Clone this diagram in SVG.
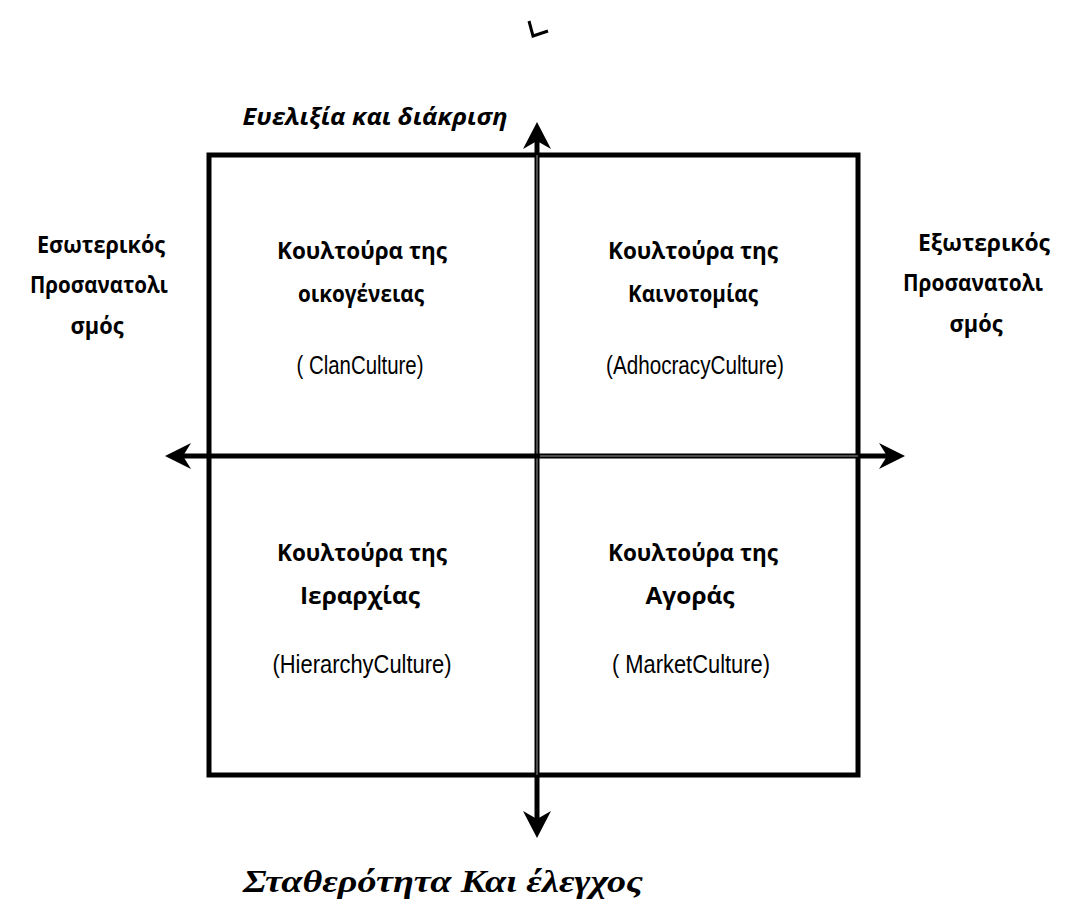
<svg xmlns="http://www.w3.org/2000/svg" width="1070" height="919" viewBox="0 0 1070 919">
<style>
.b{font-family:"Open Sans","Noto Sans","Liberation Sans",sans-serif;font-weight:bold;font-size:24px;fill:#000;text-anchor:middle}
.r{font-family:"Liberation Sans Narrow","Liberation Sans",sans-serif;font-size:26px;fill:#000;text-anchor:middle}
.ln{stroke:#000;stroke-width:5;fill:none}
.ah{fill:#000;stroke:none}
</style>
<rect width="1070" height="919" fill="#fff"/>
<path d="M529 21 L533 36 L548 31" stroke="#000" stroke-width="3" fill="none"/>
<g id="frame"><rect x="209" y="155" width="649" height="620" class="ln"/></g>
<g id="connectors">
<line x1="537" y1="135" x2="537" y2="825" class="ln"/>
<line x1="537" y1="155" x2="537" y2="775" stroke="#fff" stroke-width="1" opacity="0.6"/>
<line x1="178" y1="456" x2="892" y2="456" class="ln"/>
<line x1="540" y1="456" x2="858" y2="456" stroke="#fff" stroke-width="1" opacity="0.6"/>
<path class="ah" d="M537 122 L551 149 L537 141 L523 149 Z"/>
<path class="ah" d="M537 838 L551 811 L537 819 L523 811 Z"/>
<path class="ah" d="M165 456 L191 443 L183 456 L191 469 Z"/>
<path class="ah" d="M905 456 L879 443 L887 456 L879 469 Z"/>
</g>
<g id="axis-top"><text x="375" y="125" class="b" font-style="italic" textLength="265" lengthAdjust="spacingAndGlyphs">Ευελιξία και διάκριση</text></g>
<g id="axis-left">
<text x="101" y="253" class="b" textLength="128" lengthAdjust="spacingAndGlyphs">Εσωτερικός</text>
<text x="99" y="293" class="b" textLength="138" lengthAdjust="spacingAndGlyphs">Προσανατολι</text>
<text x="97" y="334" class="b" textLength="53" lengthAdjust="spacingAndGlyphs">σμός</text>
</g>
<g id="axis-right">
<text x="984" y="251" class="b" textLength="132" lengthAdjust="spacingAndGlyphs">Εξωτερικός</text>
<text x="973" y="291" class="b" textLength="140" lengthAdjust="spacingAndGlyphs">Προσανατολι</text>
<text x="976" y="332" class="b" textLength="53" lengthAdjust="spacingAndGlyphs">σμός</text>
</g>
<g id="clan">
<text x="362" y="259" class="b" textLength="170" lengthAdjust="spacingAndGlyphs">Κουλτούρα της</text>
<text x="361" y="302" class="b" textLength="126" lengthAdjust="spacingAndGlyphs">οικογένειας</text>
<text x="360" y="374" class="r" textLength="127" lengthAdjust="spacingAndGlyphs">( ClanCulture)</text>
</g>
<g id="adhocracy">
<text x="693" y="259" class="b" textLength="170" lengthAdjust="spacingAndGlyphs">Κουλτούρα της</text>
<text x="693" y="302" class="b" textLength="130" lengthAdjust="spacingAndGlyphs">Καινοτομίας</text>
<text x="695" y="374" class="r" textLength="178" lengthAdjust="spacingAndGlyphs">(AdhocracyCulture)</text>
</g>
<g id="hierarchy">
<text x="362" y="561" class="b" textLength="170" lengthAdjust="spacingAndGlyphs">Κουλτούρα της</text>
<text x="360" y="604" class="b" textLength="120" lengthAdjust="spacingAndGlyphs">Ιεραρχίας</text>
<text x="362" y="673" class="r" textLength="179" lengthAdjust="spacingAndGlyphs">(HierarchyCulture)</text>
</g>
<g id="market">
<text x="693" y="561" class="b" textLength="170" lengthAdjust="spacingAndGlyphs">Κουλτούρα της</text>
<text x="690" y="604" class="b" textLength="89" lengthAdjust="spacingAndGlyphs">Αγοράς</text>
<text x="691" y="673" class="r" textLength="158" lengthAdjust="spacingAndGlyphs">( MarketCulture)</text>
</g>
<g id="axis-bottom"><text x="443" y="892" font-family="'Liberation Serif','Times New Roman',serif" font-weight="bold" font-style="italic" font-size="31" text-anchor="middle" textLength="400" lengthAdjust="spacingAndGlyphs">Σταθερότητα Και έλεγχος</text></g>
</svg>
